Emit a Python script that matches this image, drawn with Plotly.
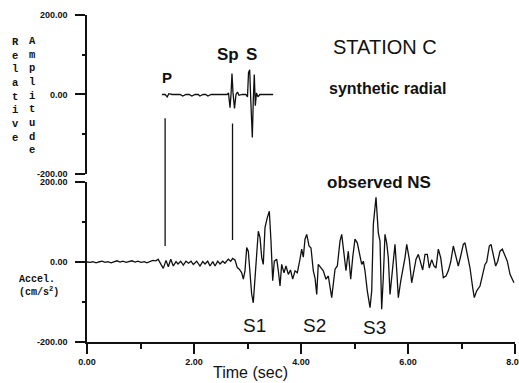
import plotly.graph_objects as go

# ---- axis ticks ----
time_ticks = [0, 2, 4, 6, 8]
time_ticklabels = ["0.00", "2.00", "4.00", "6.00", "8.00"]
time_minor = [1, 3, 5, 7]
amp_ticks = [-200, 0, 200]
amp_ticklabels = ["-200.00", "0.00", "200.00"]
amp_minor = [-100, 100]

# ---- synthetic radial seismogram (relative amplitude) ----
syn_time = [1.40, 1.46, 1.50, 1.53, 1.59, 1.74, 1.79, 1.85, 1.91, 1.96, 2.02, 2.08,
            2.11, 2.17, 2.22, 2.26, 2.32, 2.62, 2.645, 2.673, 2.692, 2.710, 2.729,
            2.757, 2.785, 2.813, 2.841, 2.90, 2.97, 3.00, 3.019, 3.041, 3.060, 3.075,
            3.090, 3.108, 3.127, 3.146, 3.168, 3.196, 3.23, 3.48]
syn_amp = [0, 0, -6, 2, 0, 0, -4, 0, 0, -4, 0, 0,
           -4, 0, 0, -4, 0, 0, 4, -33, 0, 53, 4,
           -35, 0, 6, -2, 0, 0, -6, 55, 62, -10, -45,
           -108, -15, 50, -28, 4, -6, 0, 0]

# ---- observed NS accelerogram (cm/s^2) ----
pre_time = [0.00, 0.06, 0.11, 0.17, 0.22, 0.28, 0.34, 0.39, 0.45, 0.50, 0.56, 0.62,
            0.67, 0.73, 0.79, 0.84, 0.90, 0.95, 1.01, 1.07, 1.12, 1.18, 1.23, 1.29, 1.33]
pre_accel = [0, -1, 1, -2, 0, 2, -1, 1, -2, 1, 3, 0,
             2, -1, 1, 3, 0, 2, -1, 1, -2, 2, 4, 3, 7]

p_time = [1.383, 1.426, 1.477, 1.520, 1.565, 1.613, 1.664, 1.701, 1.751, 1.800,
          1.851, 1.897, 1.944, 1.987, 2.050, 2.112, 2.163, 2.206, 2.256, 2.299,
          2.350, 2.393, 2.443, 2.486, 2.537, 2.579, 2.641, 2.686, 2.723, 2.766]
p_accel = [-6, -16, 4, -12, 7, -10, 1, -5, 2, -8,
           2, -3, 2, -6, 2, -10, 1, -5, 2, -10,
           1, -10, 2, -5, 2, -3, 7, 2, 9, 5]

s_time = [2.809, 2.847, 2.892, 2.922, 2.953, 2.985, 3.015, 3.047, 3.078, 3.108,
          3.140, 3.172, 3.202, 3.234, 3.266, 3.295, 3.327, 3.370, 3.408, 3.439,
          3.471, 3.501, 3.546, 3.576, 3.608, 3.639, 3.682, 3.720, 3.763, 3.804,
          3.845, 3.888, 3.931, 3.981, 4.013, 4.043, 4.075, 4.107, 4.150, 4.187,
          4.230, 4.262, 4.294, 4.323, 4.374, 4.417, 4.467, 4.510, 4.574, 4.636,
          4.679, 4.729, 4.761, 4.804, 4.841, 4.884, 4.929, 4.966, 5.009, 5.052,
          5.103, 5.135, 5.165, 5.196, 5.239, 5.290, 5.322, 5.352, 5.402, 5.445,
          5.477, 5.508, 5.538, 5.570, 5.602, 5.632, 5.664, 5.707, 5.757, 5.789,
          5.819, 5.864, 5.901, 5.944, 5.976, 6.024, 6.069, 6.112, 6.150, 6.193,
          6.238, 6.275, 6.318, 6.361, 6.398, 6.443, 6.486, 6.523, 6.567, 6.611,
          6.660, 6.710, 6.753, 6.798, 6.847, 6.892, 6.940, 6.985, 7.034, 7.065,
          7.108, 7.159, 7.209, 7.239, 7.284, 7.346, 7.396, 7.439, 7.471, 7.520,
          7.552, 7.595, 7.639, 7.677, 7.720, 7.763, 7.813, 7.856, 7.907, 7.957, 7.981]
s_accel = [-14, -18, -27, -43, -22, 36, 27, -22, -80, -102,
           -47, 11, 77, 61, 11, -6, 86, 111, 127, 52,
           -47, 2, 7, -22, -60, -6, -27, -10, -31, -20,
           -43, -22, -27, 7, 32, 12, 57, 69, 40, 35,
           -22, -40, -81, -6, -15, -22, -43, -35, -89, -18,
           -10, 52, 69, 11, -22, 27, -43, 11, 57, 48,
           11, -6, 2, -22, -72, -114, -72, 94, 162, 73,
           52, -118, -40, 69, 47, 11, -81, -25, 44, -20,
           -89, -48, -22, 11, 44, 7, -52, -17, 7, 19,
           -6, -20, 19, 19, -15, 6, -10, -15, 32, 11,
           -39, -35, -22, 0, 40, 15, -10, 15, 44, 48,
           22, -15, -64, -89, -72, -60, -31, -6, 0, 40,
           44, 19, -10, 2, 27, 32, 15, 2, -31, -47, -52]

obs_time = pre_time + p_time + s_time
obs_accel = pre_accel + p_accel + s_accel

# ---- phase picks: time, end on synthetic panel, end on observed panel ----
pick_time = [1.46, 2.72]
pick_syn_amp = [-60, -73]
pick_obs_accel = [40, 55]

INK = "#111111"
AMP_RANGE = [-200, 200]
LOW_DOM = [0.0, 0.4893]
UP_DOM = [0.5138, 1.0]


def to_paper(value, dom):
    """Map an amplitude value on a panel's y axis to paper coordinates."""
    frac = (value - AMP_RANGE[0]) / (AMP_RANGE[1] - AMP_RANGE[0])
    return dom[0] + frac * (dom[1] - dom[0])


fig = go.Figure()
fig.add_trace(go.Scatter(x=obs_time, y=obs_accel, mode="lines",
                         line=dict(color=INK, width=1.3),
                         xaxis="x", yaxis="y", hoverinfo="skip"))
fig.add_trace(go.Scatter(x=syn_time, y=syn_amp, mode="lines",
                         line=dict(color=INK, width=1.3),
                         xaxis="x2", yaxis="y2", hoverinfo="skip"))

for t, a_syn, a_obs in zip(pick_time, pick_syn_amp, pick_obs_accel):
    fig.add_shape(type="line", xref="x", yref="paper",
                  x0=t, x1=t, y0=to_paper(a_obs, LOW_DOM), y1=to_paper(a_syn, UP_DOM),
                  line=dict(color=INK, width=1.3))

tick_font = dict(family="Liberation Sans", size=9, color=INK, weight="bold")
yaxis_common = dict(range=AMP_RANGE, tickvals=amp_ticks, ticktext=amp_ticklabels,
                    ticks="outside", ticklen=10, tickwidth=1.5, tickcolor=INK,
                    minor=dict(tickvals=amp_minor, ticklen=3, tickwidth=1.5,
                               tickcolor=INK, ticks="outside"),
                    showline=True, linecolor=INK, linewidth=1.5,
                    showgrid=False, zeroline=False, tickfont=tick_font,
                    ticklabelstandoff=6, automargin=False)

fig.update_layout(
    width=519, height=383,
    margin=dict(l=87, r=4, t=15, b=41),
    paper_bgcolor="white", plot_bgcolor="white",
    showlegend=False,
    xaxis=dict(domain=[0, 1], range=[0, 8], anchor="y",
               tickvals=time_ticks, ticktext=time_ticklabels,
               ticks="outside", ticklen=10, tickwidth=1.5, tickcolor=INK,
               minor=dict(tickvals=time_minor, ticklen=5, tickwidth=1.5,
                          tickcolor=INK, ticks="outside"),
               showline=True, linecolor=INK, linewidth=1.5,
               showgrid=False, zeroline=False, tickfont=tick_font,
               ticklabeloverflow="allow", automargin=False),
    xaxis2=dict(domain=[0, 1], range=[0, 8], anchor="y2", matches="x",
                visible=False),
    yaxis=dict(domain=LOW_DOM, anchor="x", **yaxis_common),
    yaxis2=dict(domain=UP_DOM, anchor="x2", **yaxis_common),
)

sans = "Liberation Sans"
mono = "Liberation Mono"
annotations = [
    dict(text="STATION C", x=0.696, y=0.902, xref="paper", yref="paper",
         font=dict(family=sans, size=20, color=INK)),
    dict(text="<b>synthetic radial</b>", x=0.703, y=0.774, xref="paper", yref="paper",
         font=dict(family=sans, size=16, color=INK)),
    dict(text="<b>observed NS</b>", x=0.682, y=0.489, xref="paper", yref="paper",
         font=dict(family=sans, size=17, color=INK)),
    dict(text="<b>P</b>", x=1.50, y=43, xref="x2", yref="y2",
         font=dict(family=sans, size=15, color=INK)),
    dict(text="<b>Sp</b>", x=2.64, y=101, xref="x2", yref="y2",
         font=dict(family=sans, size=17, color=INK)),
    dict(text="<b>S</b>", x=3.08, y=101, xref="x2", yref="y2",
         font=dict(family=sans, size=17, color=INK)),
    dict(text="S1", x=3.13, y=-160, xref="x", yref="y",
         font=dict(family=sans, size=19, color=INK)),
    dict(text="S2", x=4.25, y=-160, xref="x", yref="y",
         font=dict(family=sans, size=19, color=INK)),
    dict(text="S3", x=5.38, y=-165, xref="x", yref="y",
         font=dict(family=sans, size=19, color=INK)),
    dict(text="Time (sec)", x=0.381, y=-0.094, xref="paper", yref="paper",
         font=dict(family=sans, size=16, color=INK)),
    dict(text="<b>" + "<br>".join("Relative") + "</b>", x=-0.166, y=0.771,
         xref="paper", yref="paper",
         font=dict(family=mono, size=10.5, color=INK)),
    dict(text="<b>" + "<br>".join("Amplitude") + "</b>", x=-0.1285, y=0.755,
         xref="paper", yref="paper",
         font=dict(family=mono, size=10.5, color=INK)),
    dict(text="<b>Accel.<br>(cm/s<sup>2</sup>)</b>", x=-0.1636, y=0.171,
         xref="paper", yref="paper", xanchor="left", align="left",
         font=dict(family=mono, size=10, color=INK)),
]
for a in annotations:
    a.setdefault("showarrow", False)
    a.setdefault("xanchor", "center")
    a.setdefault("yanchor", "middle")
fig.update_layout(annotations=annotations)

fig.write_html("out.html")
